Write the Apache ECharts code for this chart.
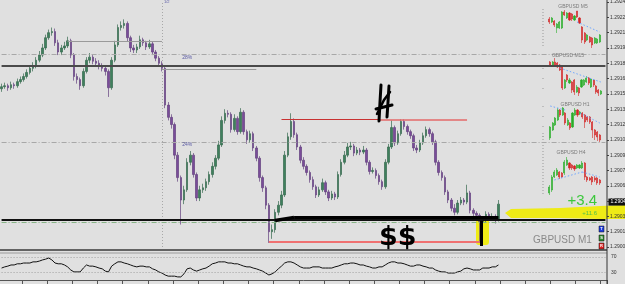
<!DOCTYPE html>
<html><head><meta charset="utf-8">
<script src="https://cdn.jsdelivr.net/npm/echarts@6/dist/echarts.min.js"></script>
<style>html,body{margin:0;padding:0;background:#e0e0e0}#c{width:625px;height:284px}</style>
</head><body><div id="c"></div>
<script>
// price values stored in points (0.00001) above BASE
const BASE = 1.29000, PT = 0.00001;
const firstOpen = 155;
const closes = [157,158,156,159,158,162,164,167,171,175,
177,183,188,195,205,210,211,200,191,195,
197,202,188,167,164,158,172,183,186,182,
180,177,175,172,156,183,198,215,217,219,
205,195,193,196,203,200,196,199,191,185,
180,175,139,127,120,90,68,46,56,83,
90,71,48,56,58,64,71,79,87,100,
124,131,130,115,126,113,132,113,105,111,
97,87,68,58,41,15,17,34,41,51,
90,108,123,110,98,85,79,73,66,59,
51,56,63,54,48,52,49,71,83,90,
98,99,92,95,93,95,83,74,75,70,
64,59,83,98,117,102,111,123,118,113,
109,97,95,102,109,115,111,103,83,73,
68,54,46,38,34,43,46,44,53,36,
33,31,25,27,32,29,30,27,42];
const highs = [160,161,160,162,161,165,167,170,174,178,
181,186,192,199,208,213,215,214,203,198,
201,206,204,190,170,166,175,186,190,188,
185,183,180,178,174,186,202,218,221,223,
221,207,198,199,207,205,202,203,201,193,
187,182,177,142,130,122,93,70,60,87,
94,92,73,60,62,67,74,83,90,104,
128,135,134,132,130,128,136,134,115,114,
113,99,89,70,60,43,22,37,45,55,
94,112,131,126,112,100,88,81,75,69,
61,59,67,65,56,55,54,74,86,94,
102,103,101,98,97,99,97,85,78,77,
72,66,86,101,124,119,114,125,125,120,
115,111,100,105,112,118,117,113,105,85,
75,70,56,48,42,46,49,48,61,55,
38,35,33,30,35,34,33,32,46];
const lows = [152,155,153,154,155,156,160,162,165,169,
172,175,181,186,193,203,207,197,188,188,
193,195,185,163,160,154,156,170,180,179,
177,174,172,168,147,154,181,196,212,214,
201,191,190,190,194,197,193,194,188,182,
177,172,136,124,116,86,64,22,42,54,
80,68,45,45,53,55,61,68,76,85,
98,121,127,112,113,110,111,110,101,102,
94,84,64,54,37,4,8,14,31,38,
49,88,105,107,95,82,76,70,63,56,
48,49,54,51,45,46,46,47,69,81,
88,95,89,90,90,91,80,71,72,67,
61,56,57,81,96,99,100,109,115,110,
106,94,92,93,100,107,108,100,80,70,
65,51,43,35,31,32,41,41,42,33,
30,28,4,22,24,26,26,23,25];
const oscillator = [41,44,46,49,49,52,52,54,54,54,
57,57,59,62,64,67,62,54,52,52,
49,44,36,31,31,31,41,49,46,46,
44,41,39,33,31,46,52,57,57,54,
52,49,46,44,46,46,44,44,39,36,
31,28,23,20,20,20,18,18,26,39,
41,36,33,36,39,41,46,52,54,57,
57,57,54,54,52,52,49,46,44,44,
41,39,36,33,28,23,26,31,39,46,
54,57,57,54,49,44,41,41,41,44,
44,44,41,41,41,41,44,46,49,52,
52,54,54,52,49,49,46,44,41,41,
44,44,49,54,57,57,54,54,52,49,
46,46,49,49,46,44,41,41,36,33,
31,31,28,28,28,31,33,39,41,39,
36,36,36,41,41,41,44,44,49];
// mini charts: [open, close, low, high] in local units
const m5 = [[31,28,26,33],[28,32,27,33],[29,25,23,30],[22,26,17,27],[22,28,21,29],[22,38,21,39],[38,35,34,40],[32,37,31,38],[37,30,29,38],[36,31,29,37],[30,34,29,35],[39,33,32,39],[32,27,26,33],[23,10,7,24],[17,8,6,18],[10,15,9,16],[13,8,7,14],[12,5,2,13],[7,12,6,13],[7,11,6,12],[8,15,7,16]];
const m15 = [[38,35,34,39],[35,38,34,39],[38,35,34,42],[37,33,32,38],[35,30,29,36],[33,12,10,34],[12,20,11,21],[25,20,18,26],[17,20,16,22],[18,10,7,19],[20,8,5,21],[8,13,7,15],[12,7,4,13],[13,20,12,21],[15,20,14,21],[18,22,17,24],[22,17,15,23],[13,21,12,22],[20,15,13,21],[14,8,6,15],[10,7,4,11],[6,9,5,10]];
const h1 = [[7,18,5,19],[15,22,14,23],[20,27,19,28],[25,35,24,37],[35,30,28,36],[30,37,29,38],[32,22,20,33],[20,25,19,27],[22,17,15,23],[18,32,17,33],[30,35,29,37],[35,30,28,36],[31,33,30,34],[32,28,26,33],[30,23,17,31],[28,25,23,29],[28,23,21,29],[23,15,7,24],[15,10,5,16],[13,8,4,14],[10,5,3,11]];
const h4 = [[7,13,5,15],[10,23,8,25],[23,28,22,30],[25,30,24,32],[28,23,21,29],[27,23,22,28],[27,38,25,40],[35,40,34,43],[37,32,30,38],[35,32,30,36],[34,31,29,35],[32,35,31,36],[32,35,31,36],[32,37,31,39],[37,23,20,38],[23,20,18,24],[22,20,19,23],[23,18,15,24],[22,20,18,24],[22,17,15,23],[20,17,15,21]];
const priceTicks = {min: 1.29000, max: 1.29240, step: 0.00015};
const currentPrice = 44;

const P = v => +(BASE + v * PT).toFixed(5);
const SLOTS = 193;
const LAST = SLOTS - 1;
const cats = Array.from({length: SLOTS}, (_, i) => String(i));
const candleData = closes.map((c, i) => [P(i === 0 ? firstOpen : closes[i-1]), P(c), P(lows[i]), P(highs[i])]);

const chart = echarts.init(document.getElementById('c'), null, {renderer: 'canvas'});
const F = 'Liberation Sans, Arial, sans-serif';
const full = (v, ls, label) => {
  const a = {coord: [0, P(v)], lineStyle: ls};
  const b = {coord: [LAST, P(v)]};
  if (label) { a.label = label; b.label = label; }
  return [a, b];
};
const miniGrid = (top, h, left, w) => ({left, top, width: w, height: h, containLabel: false, outerBoundsMode: 'none'});
const miniX = (g, n) => ({type: 'category', gridIndex: g, data: Array.from({length: n}, (_, i) => String(i)), show: false, boundaryGap: true});
const miniY = (g, max) => ({type: 'value', gridIndex: g, min: 0, max: max, show: false});
const miniSeries = (g, data, trend) => ({
  type: 'candlestick', xAxisIndex: g, yAxisIndex: g, data: data, barWidth: 1.6,
  itemStyle: {color: '#2aae2a', color0: '#d42626', borderColor: '#2aae2a', borderColor0: '#d42626', borderWidth: 0.6},
  markLine: {silent: true, symbol: ['none', 'none'], label: {show: false},
    lineStyle: {color: '#6fa6ff', type: [1.5, 2], width: 1}, data: trend},
  animation: false
});
const dashDot = [5, 2, 1, 2];

const option = {
  backgroundColor: '#e0e0e0',
  animation: false,
  grid: [
    {left: 0, top: 2, width: 607, height: 245, containLabel: false, outerBoundsMode: 'none'},
    {left: 0, top: 253, width: 607, height: 27, containLabel: false, outerBoundsMode: 'none'},
    miniGrid(0, 50, 548, 53),
    miniGrid(50, 50, 549, 53),
    miniGrid(100, 45, 549, 52),
    miniGrid(150, 50, 548, 53)
  ],
  xAxis: [
    {type: 'category', gridIndex: 0, data: cats, show: false, boundaryGap: true},
    {type: 'category', gridIndex: 1, data: cats, boundaryGap: true,
      axisLine: {show: true, lineStyle: {color: '#555', width: 1}},
      axisTick: {show: true, length: 4, interval: (idx) => idx % 8 === 7, lineStyle: {color: '#555'}},
      axisLabel: {show: false}, splitLine: {show: false}},
    miniX(2, m5.length), miniX(3, m15.length), miniX(4, h1.length), miniX(5, h4.length)
  ],
  yAxis: [
    {type: 'value', gridIndex: 0, position: 'right', min: priceTicks.min, max: priceTicks.max, interval: priceTicks.step,
      axisLine: {show: false}, axisTick: {show: true, length: 2, lineStyle: {color: '#444'}},
      splitLine: {show: false},
      axisLabel: {show: true, margin: 3, fontSize: 5, color: '#333', fontFamily: F, formatter: v => v.toFixed(5)}},
    {type: 'value', gridIndex: 1, position: 'right', min: 10, max: 80,
      axisLine: {show: false}, axisTick: {show: false}, splitLine: {show: false},
      axisLabel: {show: true, margin: 4, fontSize: 5, color: '#333', fontFamily: F, customValues: [30, 70]}},
    miniY(2, 50), miniY(3, 50), miniY(4, 45), miniY(5, 50)
  ],
  series: [
    {
      type: 'candlestick', xAxisIndex: 0, yAxisIndex: 0, data: candleData, barWidth: 2,
      itemStyle: {color: '#3f805d', color0: '#7a4c99', borderColor: '#35694e', borderColor0: '#63407e', borderWidth: 0.7},
      markLine: {
        silent: true, symbol: ['none', 'none'], label: {show: false},
        data: [
          [{coord: [51, priceTicks.min], lineStyle: {color: '#a8a8a8', type: [1, 2], width: 1}}, {coord: [51, priceTicks.max]}],
          full(189, {color: '#a8a8a8', type: dashDot, width: 1}),
          full(178, {color: '#4a4a4a', type: 'solid', width: 2}),
          full(103, {color: '#a8a8a8', type: dashDot, width: 1}),
          full(24, {color: '#86b386', type: dashDot, width: 1}),
          full(27, {color: '#111', type: 'solid', width: 2}),
          [{coord: [21, P(202)], lineStyle: {color: '#9a9a9a', type: 'solid', width: 1}}, {coord: [51, P(202)]}],
          [{coord: [51, P(174)], lineStyle: {color: '#9a9a9a', type: 'solid', width: 1}}, {coord: [81, P(174)]}],
          [{coord: [89, P(125)], lineStyle: {color: '#c83232', type: 'solid', width: 1}}, {coord: [120, P(125)]}],
          [{coord: [120, P(125)], lineStyle: {color: '#e46a6a', type: 'solid', width: 1.6}}, {coord: [148, P(125)]}],
          [{coord: [85, P(5)], lineStyle: {color: '#f07272', type: 'solid', width: 2}}, {coord: [152, P(5)]}],
          [{coord: [87, P(26)], lineStyle: {color: '#000', type: 'solid', width: 3.5}}, {coord: [93, P(29)]}],
          [{coord: [93, P(29)], lineStyle: {color: '#000', type: 'solid', width: 3}}, {coord: [158, P(29)]}],
          [{coord: [LAST - 1, P(currentPrice)], lineStyle: {color: 'rgba(0,0,0,0)', width: 0.1},
             label: {show: true, position: 'end', distance: 3, formatter: P(currentPrice).toFixed(5), fontSize: 5,
               color: '#fff', backgroundColor: '#111', padding: [1, 2], fontFamily: F}},
           {coord: [LAST, P(currentPrice)]}]
        ]
      },
      markPoint: {
        silent: true, symbol: 'rect', symbolSize: 0,
        label: {show: true, fontSize: 5, color: '#5a5aa5', fontFamily: F, position: 'inside'},
        data: [
          {coord: [59, P(186)], value: '28%', label: {formatter: '28%'}},
          {coord: [59, P(100)], value: '24%', label: {formatter: '24%'}}
        ]
      },
      animation: false
    },
    {
      type: 'line', xAxisIndex: 1, yAxisIndex: 1, data: oscillator, symbol: 'none', smooth: false,
      lineStyle: {color: '#111', width: 1}, animation: false,
      markLine: {silent: true, symbol: ['none', 'none'], label: {show: false},
        lineStyle: {color: '#a0a0a0', type: [1, 2], width: 1},
        data: [[{coord: [0, 70]}, {coord: [LAST, 70]}], [{coord: [0, 30]}, {coord: [LAST, 30]}]]}
    },
    miniSeries(2, m5, [[{coord: [11, 28]}, {coord: [20, 18]}]]),
    miniSeries(3, m15, [[{coord: [4, 32]}, {coord: [21, 18]}]]),
    miniSeries(4, h1, [[{coord: [0, 39]}, {coord: [6, 35]}], [{coord: [12, 32]}, {coord: [20, 22]}]]),
    miniSeries(5, h4, [[{coord: [2, 20]}, {coord: [13, 28]}], [{coord: [13, 28]}, {coord: [20, 23]}]])
  ],
  graphic: [
    {type: 'polygon', z: 0, silent: true, shape: {points: [[505,213],[511,209],[560,208],[600,206],[625,205],[625,219],[600,219],[560,218],[511,218]]},
      style: {fill: 'rgba(240,236,0,0.9)'}},
    {type: 'rect', z: 0, silent: true, shape: {x: 476, y: 218, width: 13, height: 27, r: 3}, style: {fill: 'rgba(240,236,0,0.9)'}},
    {type: 'rect', z: 10, silent: true, shape: {x: 480, y: 221, width: 3, height: 25}, style: {fill: '#000'}},
    {type: 'line', z: 10, silent: true, shape: {x1: 0, y1: 250, x2: 607, y2: 250}, style: {stroke: '#3a3a3a', lineWidth: 1.5}},
    {type: 'line', z: 10, silent: true, shape: {x1: 0, y1: 253, x2: 607, y2: 253}, style: {stroke: '#9a9a9a', lineWidth: 1}},
    {type: 'line', z: 10, silent: true, shape: {x1: 607, y1: 0, x2: 607, y2: 284}, style: {stroke: '#333', lineWidth: 1}},
    {type: 'line', z: 5, silent: true, shape: {x1: 543, y1: 9, x2: 543, y2: 48}, style: {stroke: '#999', lineWidth: 1, lineDash: [1, 2]}},
    {type: 'line', z: 5, silent: true, shape: {x1: 543, y1: 68, x2: 543, y2: 92}, style: {stroke: '#999', lineWidth: 1, lineDash: [1, 9]}},
    {type: 'line', z: 5, silent: true, shape: {x1: 543, y1: 106, x2: 543, y2: 140}, style: {stroke: '#999', lineWidth: 1, lineDash: [1, 9]}},
    {type: 'line', z: 5, silent: true, shape: {x1: 543, y1: 133, x2: 543, y2: 194}, style: {stroke: '#999', lineWidth: 1, lineDash: [1, 2]}},
    {type: 'text', z: 10, silent: true, x: 573, y: 7, style: {text: 'GBPUSD M5', fill: '#7a7a7a', font: '5px ' + F, textAlign: 'center', textVerticalAlign: 'middle', align: 'center', verticalAlign: 'middle'}},
    {type: 'text', z: 10, silent: true, x: 568, y: 56, style: {text: 'GBPUSD M15', fill: '#7a7a7a', font: '5px ' + F, textAlign: 'center', textVerticalAlign: 'middle', align: 'center', verticalAlign: 'middle'}},
    {type: 'text', z: 10, silent: true, x: 575, y: 105, style: {text: 'GBPUSD H1', fill: '#7a7a7a', font: '5px ' + F, textAlign: 'center', textVerticalAlign: 'middle', align: 'center', verticalAlign: 'middle'}},
    {type: 'text', z: 10, silent: true, x: 571, y: 153, style: {text: 'GBPUSD H4', fill: '#7a7a7a', font: '5px ' + F, textAlign: 'center', textVerticalAlign: 'middle', align: 'center', verticalAlign: 'middle'}},
    {type: 'text', z: 10, silent: true, x: 597, y: 201, style: {text: '+3.4', fill: '#3cc83c', font: '15px ' + F, textAlign: 'right', textVerticalAlign: 'middle', align: 'right', verticalAlign: 'middle'}},
    {type: 'text', z: 10, silent: true, x: 597, y: 213, style: {text: '+11.6', fill: '#4cbf4c', font: '6px ' + F, textAlign: 'right', textVerticalAlign: 'middle', align: 'right', verticalAlign: 'middle'}},
    {type: 'text', z: 10, silent: true, x: 533, y: 240, style: {text: 'GBPUSD M1', fill: '#8a8a8a', font: '10px ' + F, textAlign: 'left', textVerticalAlign: 'middle', align: 'left', verticalAlign: 'middle'}},
    {type: 'rect', z: 10, silent: true, shape: {x: 599, y: 226, width: 5, height: 6}, style: {fill: '#1e3de0', stroke: '#111', lineWidth: 0.5}},
    {type: 'text', z: 11, silent: true, x: 601.5, y: 229, style: {text: 'T', fill: '#fff', font: 'bold 4px ' + F, textAlign: 'center', textVerticalAlign: 'middle', align: 'center', verticalAlign: 'middle'}},
    {type: 'rect', z: 10, silent: true, shape: {x: 599, y: 235, width: 5, height: 6}, style: {fill: '#2f8a2f', stroke: '#111', lineWidth: 0.5}},
    {type: 'text', z: 11, silent: true, x: 601.5, y: 238, style: {text: 'S', fill: '#fff', font: 'bold 4px ' + F, textAlign: 'center', textVerticalAlign: 'middle', align: 'center', verticalAlign: 'middle'}},
    {type: 'rect', z: 10, silent: true, shape: {x: 599, y: 243, width: 5, height: 6}, style: {fill: '#e02424', stroke: '#111', lineWidth: 0.5}},
    {type: 'text', z: 11, silent: true, x: 601.5, y: 246, style: {text: 'R', fill: '#fff', font: 'bold 4px ' + F, textAlign: 'center', textVerticalAlign: 'middle', align: 'center', verticalAlign: 'middle'}},
    {type: 'polyline', z: 12, silent: true, shape: {points: [[381,85],[380,102],[379,121]]}, style: {stroke: '#000', lineWidth: 3, lineCap: 'round', fill: null}},
    {type: 'polyline', z: 12, silent: true, shape: {points: [[389,86],[388,102],[387,117]]}, style: {stroke: '#000', lineWidth: 3, lineCap: 'round', fill: null}},
    {type: 'polyline', z: 12, silent: true, shape: {points: [[377,114],[384,100],[390,92]]}, style: {stroke: '#000', lineWidth: 2.5, lineCap: 'round', fill: null}},
    {type: 'polyline', z: 12, silent: true, shape: {points: [[376,109],[384,107],[392,105]]}, style: {stroke: '#000', lineWidth: 3, lineCap: 'round', fill: null}},
    {type: 'text', z: 12, silent: true, x: 379, y: 238, style: {text: '$$', fill: '#000', font: 'bold 27px DejaVu Sans, sans-serif', textAlign: 'left', textVerticalAlign: 'middle', align: 'left', verticalAlign: 'middle'}},
    {type: 'text', z: 10, silent: true, x: 164, y: 2, style: {text: '1/2', fill: '#5a5aa5', font: '4px ' + F, textAlign: 'left', textVerticalAlign: 'middle', align: 'left', verticalAlign: 'middle'}}
  ]
};
chart.setOption(option);
</script></body></html>
